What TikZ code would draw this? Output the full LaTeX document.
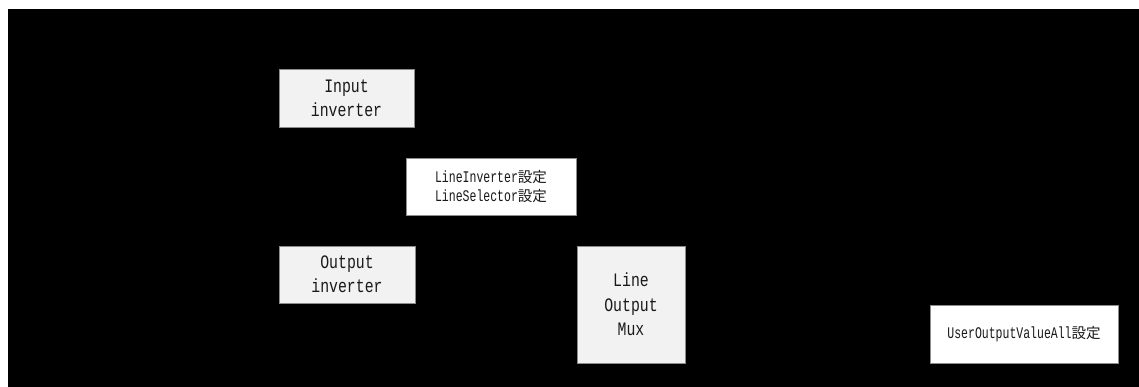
\documentclass[tikz,border=0pt]{standalone}
\usepackage{fontspec}
\newfontfamily\bigmono[FakeStretch=0.78]{Liberation Mono}
\newfontfamily\smallmono[FakeStretch=0.71]{Liberation Mono}
\newfontfamily\jp{Noto Sans CJK JP}
\newcommand{\settei}{{\jp\fontsize{14.5}{18.3}\selectfont 設定}}
\tikzset{
  blockbox/.style={draw=black!45, line width=0.8pt, fill=black!5, text=black!90,
    align=center, inner sep=0pt, font=\fontsize{19}{24.3}\bigmono},
  cfgbox/.style={draw=black!45, line width=0.8pt, fill=white, text=black!90,
    align=center, inner sep=0pt, font=\fontsize{16.2}{18.3}\smallmono},
}
\begin{document}
\begin{tikzpicture}[x=1pt,y=1pt]
  % canvas and dark panel
  \fill[white] (0,0) rectangle (1139,387);
  \fill[black] (8,0) rectangle (1139,378);
  \useasboundingbox (0,0) rectangle (1139,387);

  % processing blocks
  \node[blockbox, minimum width=135, minimum height=58] (ininv) at (346.5,289) {Input\\inverter};
  \node[blockbox, minimum width=136, minimum height=57] (outinv) at (347,112.5) {Output\\inverter};
  \node[blockbox, minimum width=108, minimum height=117] (mux) at (631,82.5) {Line\\Output\\Mux};

  % configuration notes
  \node[cfgbox, minimum width=170, minimum height=57] (cfgline) at (491,200.5)
    {LineInverter\settei\\LineSelector\settei};
  \node[cfgbox, minimum width=188, minimum height=58] (cfguser) at (1024,53)
    {UserOutputValueAll\settei};
\end{tikzpicture}
\end{document}
